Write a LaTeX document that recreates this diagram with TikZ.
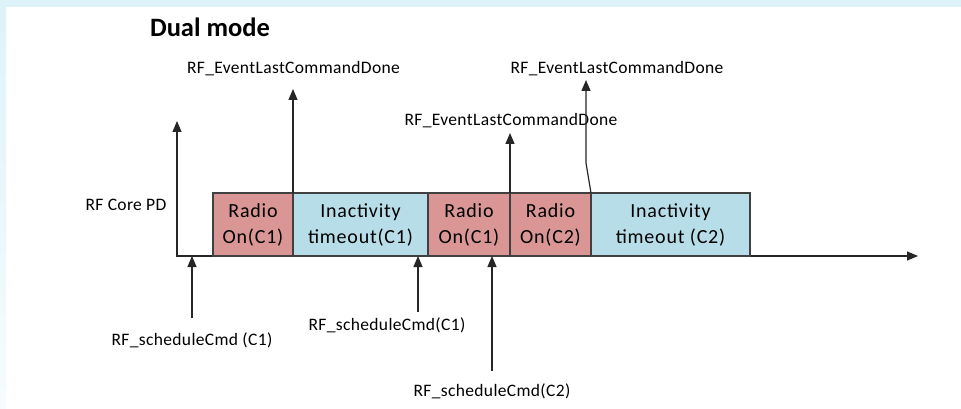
\documentclass[tikz,border=0pt]{standalone}
\usepackage{fontspec}
\setmainfont{Carlito}
\newfontfamily\slotfont[LetterSpace=4]{Carlito}
\newfontfamily\lblfont[LetterSpace=2]{Carlito}
\usepackage{tikz}
\usetikzlibrary{positioning,arrows.meta}

\definecolor{radiored}{HTML}{D99694}
\definecolor{idleblue}{HTML}{B7DEE8}
\definecolor{frameblue}{HTML}{DDF3F9}

\tikzset{
	slot/.style={draw=black!75, line width=1.3pt, outer sep=0pt, inner sep=0pt,
		minimum height=63pt, align=center, font=\slotfont\fontsize{20}{26}\selectfont},
	radio/.style={slot, fill=radiored},
	idle/.style={slot, fill=idleblue},
	lbl/.style={font=\lblfont\fontsize{17.5}{20}\selectfont, anchor=base, inner sep=1pt},
	sig/.style={line width=1.2pt, draw=black!85, ->}
}

\begin{document}
\begin{tikzpicture}[x=1pt, y=-1pt, >={Triangle[width=9pt,length=11pt]}]
			% screenshot frame
			\fill[white] (0,0) rectangle (961,409);
			\fill[frameblue] (0,0) rectangle (961,7);
			\shade[top color=frameblue, bottom color=frameblue!25] (0,7) rectangle (6,409);
			\node[font=\bfseries\fontsize{26.5}{30}\selectfont, anchor=base] (title) at (210,37) {Dual mode};
			% axes
			\coordinate (o) at (177,256);
			\coordinate (tend) at (918,256);
			\coordinate (pdend) at (177,121);
			\draw[sig, <->] (pdend) -- (o) -- (tend);
			\node[lbl] (pd) at (126,210) {RF Core PD};
			% slots on the time line
			\node[radio, minimum width=80pt, anchor=south west] (r1) at (213,256) {Radio\\On(C1)};
			\node[idle, minimum width=135pt, right=0pt of r1] (i1) {Inactivity\\timeout(C1)};
			\node[radio, minimum width=82pt, right=0pt of i1] (r2) {Radio\\On(C1)};
			\node[radio, minimum width=81pt, right=0pt of r2] (r3) {Radio\\On(C2)};
			\node[idle, minimum width=159pt, right=0pt of r3] (i2) {Inactivity\\timeout (C2)};
			% command done events
			\foreach \n/\x/\y in {1/293.5/74, 2/511/126, 3/617/74}
				\node[lbl] (ev\n) at (\x,\y) {RF\_EventLastCommandDone};
			\coordinate (t1) at (293,89);
			\coordinate (t2) at (510,133);
			\coordinate (t3) at (586,80);
			\draw[sig] (r1.north east) -- (t1);
			\draw[sig] (r2.north east) -- (t2);
			\draw[sig] (i2.north west) -- ++(-5,-30) -- (t3);
			% schedule commands
			\node[lbl] (sc1) at (192,345) {RF\_scheduleCmd (C1)};
			\node[lbl] (sc2) at (387,330) {RF\_scheduleCmd(C1)};
			\node[lbl] (sc3) at (492,396) {RF\_scheduleCmd(C2)};
			\coordinate (s1) at (192,318);
			\coordinate (s2) at (418,312);
			\coordinate (s3) at (492,371);
			\foreach \s in {s1, s2, s3}
				\draw[sig] (\s) -- (\s |- o);
		\end{tikzpicture}
\end{document}
